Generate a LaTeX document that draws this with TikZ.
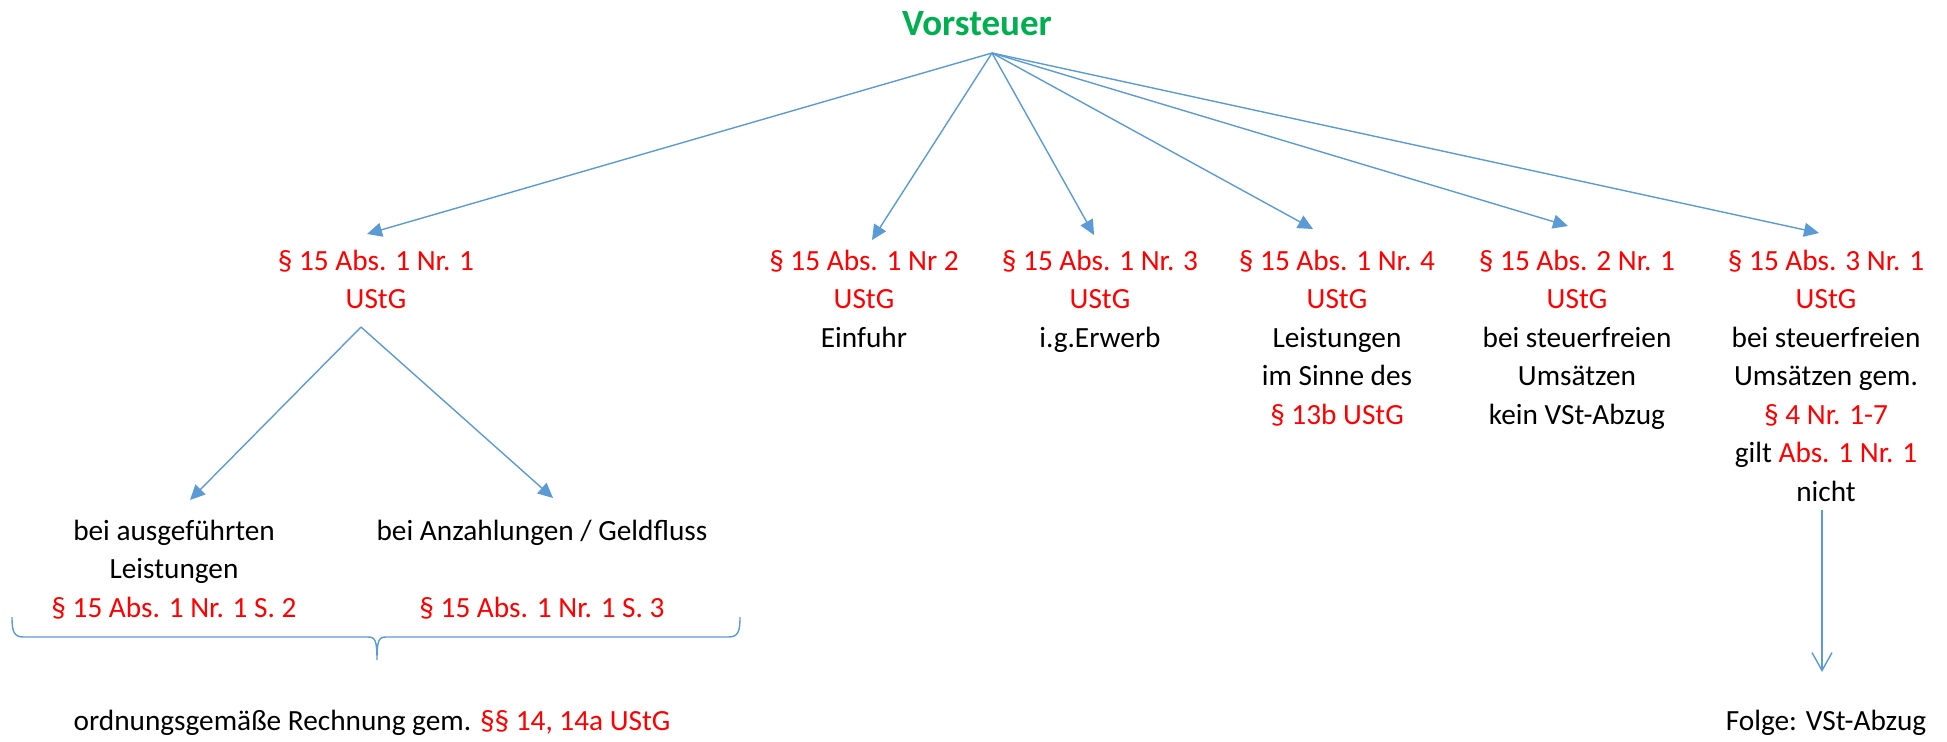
\documentclass[tikz,border=0pt]{standalone}
\usepackage{fontspec}
\setmainfont{Carlito}
\usetikzlibrary{arrows.meta}
\definecolor{lawred}{HTML}{FF0000}
\definecolor{headgreen}{HTML}{00B050}
\definecolor{linkblue}{HTML}{5B9BD5}
\newcommand{\rd}[1]{\textcolor{lawred}{#1}}
\begin{document}
\begin{tikzpicture}[x=0.5pt,y=-0.5pt,
  % multi-line blocks are placed by the baseline of their last line
  txt/.style={anchor=base, align=center, inner sep=0pt,
    font=\fontsize{14.65pt}{19.25pt}\selectfont},
  link/.style={draw=linkblue, line width=0.7pt,
    -{Triangle[length=7.5pt,width=7pt]}},
  openlink/.style={draw=linkblue, line width=0.7pt,
    -{Straight Barb[length=9pt,width=10pt]}},
  brace/.style={draw=linkblue, line width=0.7pt}]
\useasboundingbox (0,0) rectangle (1947,741);

% heading
\node[anchor=base, inner sep=0pt, text=headgreen,
  font=\fontsize{18.5pt}{22pt}\selectfont\bfseries] (title) at (977,35) {Vorsteuer};
\coordinate (src) at (992,53);

% main branches
\node[txt] (n1) at (376,308.5) {\rd{§ 15 Abs. 1 Nr. 1}\\\rd{UStG}};
\node[txt] (n2) at (864,347) {\rd{§ 15 Abs. 1 Nr 2}\\\rd{UStG}\\Einfuhr};
\node[txt] (n3) at (1100,347) {\rd{§ 15 Abs. 1 Nr. 3}\\\rd{UStG}\\i.g.Erwerb};
\node[txt] (n4) at (1337,424) {\rd{§ 15 Abs. 1 Nr. 4}\\\rd{UStG}\\Leistungen\\im Sinne des\\\rd{§ 13b UStG}};
\node[txt] (n5) at (1577,424) {\rd{§ 15 Abs. 2 Nr. 1}\\\rd{UStG}\\bei steuerfreien\\Umsätzen\\kein VSt-Abzug};
\node[txt] (n6) at (1826,501) {\rd{§ 15 Abs. 3 Nr. 1}\\\rd{UStG}\\bei steuerfreien\\Umsätzen gem.\\\rd{§ 4 Nr. 1-7}\\gilt \rd{Abs. 1 Nr. 1}\\nicht};

\coordinate (t1) at (367,234);
\coordinate (t2) at (872,240);
\coordinate (t3) at (1094,235);
\coordinate (t4) at (1313,229);
\coordinate (t5) at (1568,226);
\coordinate (t6) at (1819,233);
\foreach \t in {t1,t2,t3,t4,t5,t6}
  \draw[link] (src) -- (\t);

% sub-branches of Nr. 1
\coordinate (fork) at (361,327);
\coordinate (s1tip) at (190,500);
\coordinate (s2tip) at (553,498);
\draw[link] (fork) -- (s1tip);
\draw[link] (fork) -- (s2tip);

\node[txt] (s1) at (174,617) {bei ausgeführten\\Leistungen\\\rd{§ 15 Abs. 1 Nr. 1 S. 2}};
\node[txt] (s2) at (542,617) {bei Anzahlungen / Geldfluss\\[19.25pt]\rd{§ 15 Abs. 1 Nr. 1 S. 3}};

% brace joining both cases
\draw[brace] (12,617) .. controls (12,632) and (14,637) .. (24,637)
  -- (368,637) .. controls (375,637) and (377,640) .. (377,660)
  .. controls (377,640) and (379,637) .. (386,637)
  -- (728,637) .. controls (738,637) and (740,632) .. (740,617);

\node[txt] (rule) at (372,730) {ordnungsgemäße Rechnung gem. \rd{§§ 14, 14a UStG}};

% consequence of Abs. 3
\coordinate (v1) at (1822,510);
\coordinate (v2) at (1822,672);
\draw[openlink] (v1) -- (v2);
\node[txt] (folge) at (1826,730) {Folge: VSt-Abzug};
\end{tikzpicture}
\end{document}
